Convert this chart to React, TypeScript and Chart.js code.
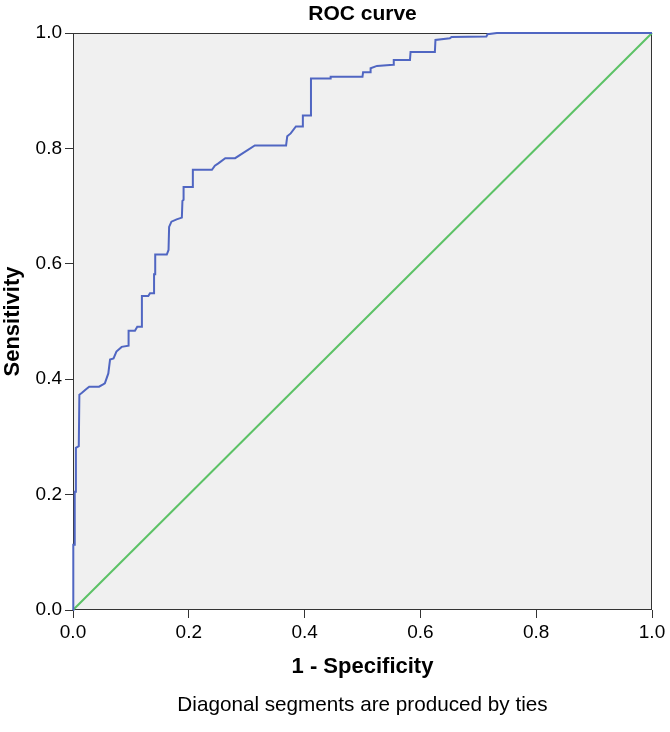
import React, { useEffect, useRef } from "react";
import { Chart, registerables } from "chart.js";

Chart.register(...registerables);

const fpr = [0, 0.0005, 0.003, 0.003, 0.005, 0.005, 0.010, 0.011, 0.015, 0.022, 0.028, 0.045, 0.052, 0.055, 0.061, 0.064, 0.070, 0.075, 0.084, 0.096, 0.096, 0.107, 0.111, 0.119, 0.119, 0.130, 0.133, 0.140, 0.140, 0.142, 0.142, 0.162, 0.165, 0.166, 0.170, 0.179, 0.188, 0.189, 0.191, 0.191, 0.207, 0.207, 0.240, 0.245, 0.251, 0.263, 0.280, 0.314, 0.368, 0.370, 0.376, 0.385, 0.397, 0.397, 0.411, 0.411, 0.444, 0.445, 0.500, 0.501, 0.513, 0.514, 0.525, 0.553, 0.554, 0.582, 0.583, 0.625, 0.626, 0.651, 0.654, 0.714, 0.716, 0.732, 1];
const tpr = [0, 0.113, 0.113, 0.205, 0.205, 0.281, 0.284, 0.373, 0.376, 0.382, 0.387, 0.387, 0.391, 0.393, 0.410, 0.434, 0.436, 0.448, 0.456, 0.458, 0.484, 0.484, 0.491, 0.491, 0.544, 0.544, 0.549, 0.549, 0.582, 0.582, 0.616, 0.616, 0.624, 0.664, 0.673, 0.677, 0.680, 0.709, 0.711, 0.733, 0.733, 0.763, 0.763, 0.770, 0.774, 0.783, 0.783, 0.805, 0.805, 0.821, 0.826, 0.838, 0.838, 0.857, 0.857, 0.921, 0.921, 0.924, 0.924, 0.932, 0.932, 0.939, 0.943, 0.945, 0.953, 0.953, 0.967, 0.967, 0.988, 0.991, 0.993, 0.994, 0.998, 1.0, 1.0];
const refX = [0, 1];
const refY = [0, 1];

const chartTitle = "ROC curve";
const xTitle = "1 - Specificity";
const yTitle = "Sensitivity";
const footnote = "Diagonal segments are produced by ties";

const FONT = "'Liberation Sans', Arial, Helvetica, sans-serif";

const plotBg = {
  id: "plotBg",
  beforeDraw(chart: any) {
    const { ctx, chartArea: a } = chart;
    ctx.save();
    ctx.fillStyle = "#F0F0F0";
    ctx.fillRect(a.left, a.top, a.right - a.left, a.bottom - a.top);
    ctx.restore();
  },
  beforeDatasetsDraw(chart: any) {
    const { ctx, chartArea: a } = chart;
    ctx.save();
    ctx.strokeStyle = "#333333";
    ctx.lineWidth = 1;
    ctx.strokeRect(a.left + 0.5, a.top + 0.5, a.right - a.left - 1, a.bottom - a.top - 1);
    ctx.restore();
  },
};

export default function App() {
  const ref = useRef<HTMLCanvasElement | null>(null);
  useEffect(() => {
    document.body.style.margin = "0";
    if (!ref.current) return;
    const chart = new Chart(ref.current, {
      type: "line",
      data: {
        datasets: [
          {
            data: fpr.map((x, i) => ({ x, y: tpr[i] })),
            borderColor: "#5066C2",
            borderWidth: 2,
            pointRadius: 0,
            tension: 0,
            clip: 4,
          },
          {
            data: refX.map((x, i) => ({ x, y: refY[i] })),
            borderColor: "#5CC266",
            borderWidth: 2,
            pointRadius: 0,
            tension: 0,
            clip: 4,
          },
        ],
      },
      options: {
        animation: false,
        responsive: false,
        layout: { padding: { left: 0, right: 18, top: 0, bottom: 0 } },
        plugins: {
          legend: { display: false },
          tooltip: { enabled: false },
          title: {
            display: true,
            text: chartTitle,
            fullSize: false,
            color: "#000",
            font: { family: FONT, size: 21, weight: "bold", lineHeight: 1.2 },
            padding: { top: 1.7, bottom: 6.1 },
          },
          subtitle: {
            display: true,
            text: footnote,
            position: "bottom",
            fullSize: false,
            color: "#000",
            font: { family: FONT, size: 20.7, weight: "normal", lineHeight: 1.2 },
            padding: { top: 0, bottom: 14.6 },
          },
        },
        scales: {
          x: {
            type: "linear",
            min: 0,
            max: 1,
            afterFit(scale: any) {
              scale.height = 82.56;
            },
            border: { display: false },
            grid: {
              drawOnChartArea: false,
              drawTicks: true,
              tickLength: 8,
              color: "#333333",
            },
            ticks: {
              stepSize: 0.2,
              color: "#000",
              padding: 3,
              font: { family: FONT, size: 19 },
              callback: (v: any) => Number(v).toFixed(1),
              maxRotation: 0,
            },
            title: {
              display: true,
              text: xTitle,
              color: "#000",
              font: { family: FONT, size: 22, weight: "bold", lineHeight: 1.2 },
              padding: { top: 0, bottom: 12.4 },
            },
          },
          y: {
            type: "linear",
            min: 0,
            max: 1,
            afterFit(scale: any) {
              scale.width = 73;
            },
            border: { display: false },
            grid: {
              drawOnChartArea: false,
              drawTicks: true,
              tickLength: 8,
              color: "#333333",
            },
            ticks: {
              stepSize: 0.2,
              color: "#000",
              padding: 3,
              font: { family: FONT, size: 19 },
              callback: (v: any) => Number(v).toFixed(1),
            },
            title: {
              display: true,
              text: yTitle,
              color: "#000",
              font: { family: FONT, size: 22, weight: "bold", lineHeight: 1.2 },
              padding: { top: 0, bottom: 0 },
            },
          },
        },
      },
      plugins: [plotBg],
    });
    return () => chart.destroy();
  }, []);
  return (
    <div style={{ width: 670, height: 732 }}>
      <canvas ref={ref} width={670} height={732} style={{ display: "block" }} />
    </div>
  );
}
